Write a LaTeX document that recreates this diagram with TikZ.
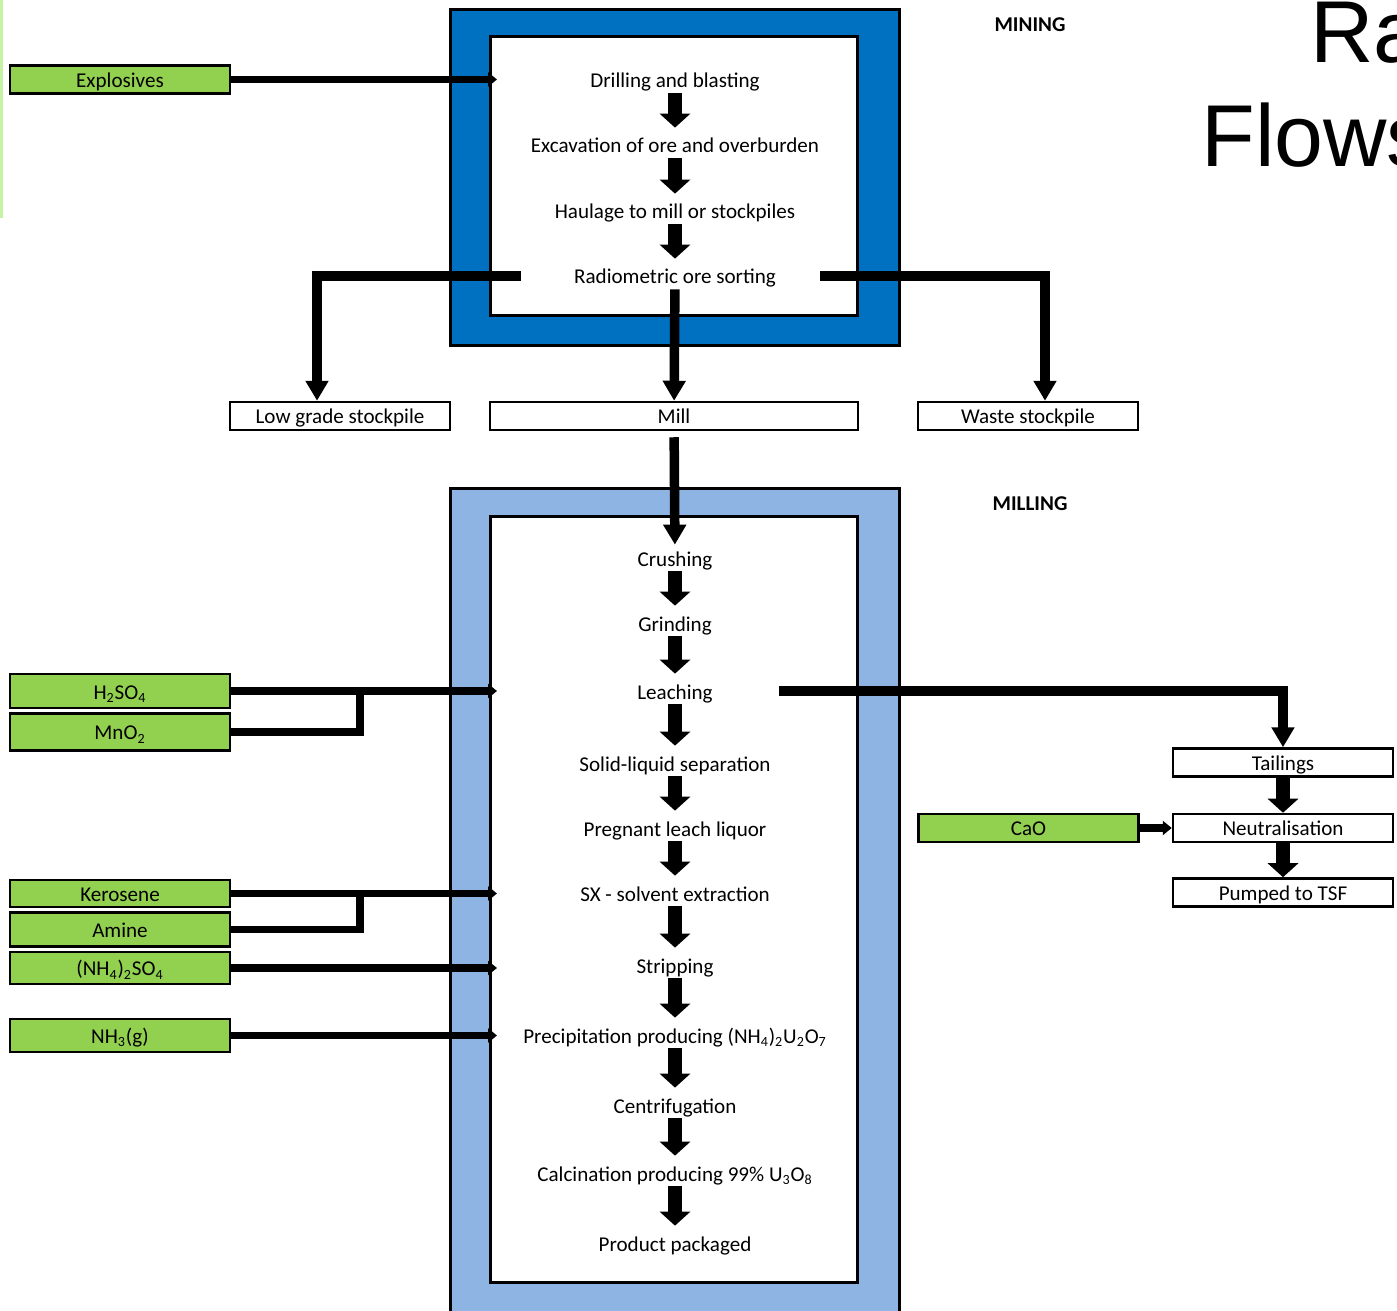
\documentclass[tikz,border=0pt]{standalone}
\usepackage{fontspec}
\setmainfont{Carlito}
\newfontfamily\titlefont{Liberation Sans}
\usepackage{xcolor}
\usepackage{tikz}
\usetikzlibrary{arrows.meta, positioning, calc}

\definecolor{mineblue}{HTML}{0070C0}
\definecolor{millblue}{HTML}{8EB4E3}
\definecolor{chemgreen}{HTML}{92D050}
\definecolor{edgegreen}{HTML}{C6F2A4}

\begin{document}
\begin{tikzpicture}[
  x=0.02cm, y=-0.02cm,
  every node/.style = {font=\fontsize{12}{14}\selectfont},
  stepnode/.style = {
    inner sep=0pt, minimum height=0.52cm,
    text height=0.36cm, text depth=0.04cm
  },
  stockbox/.style = {
    rectangle, draw=black, line width=0.05cm, fill=white,
    minimum width=4.4cm, minimum height=0.56cm, inner sep=0pt,
    text height=0.36cm, text depth=0.04cm
  },
  chembox/.style = {stockbox, fill=chemgreen},
  zonebox/.style = {
    rectangle, draw=black, line width=0.06cm,
    inner sep=0pt, outer sep=0pt, anchor=north west
  },
  blk/.style = {-{Triangle[width=0.6cm, length=0.28cm]}, line width=0.27cm, shorten >=0.08cm},
  blkbox/.style = {blk, shorten >=0pt},
  arr/.style = {-{Triangle[width=0.44cm, length=0.4cm]}, line width=0.19cm},
  feed/.style = {-{Triangle[width=0.28cm, length=0.18cm]}, line width=0.15cm},
  pipe/.style = {line width=0.15cm}
]

\path[use as bounding box] (0,0) rectangle (1397,1311);
\clip (0,0) rectangle (1397,1311);

% Slide edge and title
\fill[edgegreen] (0,0) rectangle (3,218);
\node[anchor=base west, inner sep=0pt, font=\titlefont\fontsize{50}{50}\selectfont] (ttl1) at (1310,63) {Ra};
\node[anchor=base west, inner sep=0pt, font=\titlefont\fontsize{50}{50}\selectfont] (ttl2) at (1201,167) {Flows};

% Zones
\node[zonebox, fill=mineblue, minimum width=9cm, minimum height=6.72cm] (mineout) at (450,10) {};
\node[zonebox, fill=white, minimum width=7.36cm, minimum height=5.58cm] (minein) at (490,37) {};
\node[zonebox, fill=millblue, minimum width=9cm, minimum height=16.84cm] (millout) at (450,488) {};
\node[zonebox, fill=white, minimum width=7.36cm, minimum height=15.34cm] (millin) at (490,516) {};

\node[font=\bfseries\fontsize{12}{14}\selectfont] (mining) at (1030,25) {MINING};
\node[font=\bfseries\fontsize{12}{14}\selectfont] (milling) at (1030,504) {MILLING};

% Mining steps
\node[stepnode] (drill) at (675,80) {Drilling and blasting};
\node[stepnode] (excav) at (675,145) {Excavation of ore and overburden};
\node[stepnode] (haul) at (675,211) {Haulage to mill or stockpiles};
\node[stepnode] (sort) at (675,276) {Radiometric ore sorting};

% Stockpiles
\node[stockbox] (lowgrade) at (340,416) {Low grade stockpile};
\node[stockbox, minimum width=7.36cm] (mill) at (674,416) {Mill};
\node[stockbox] (waste) at (1028,416) {Waste stockpile};

% Milling steps
\node[stepnode] (crush) at (675,558) {Crushing};
\node[stepnode] (grind) at (675,623) {Grinding};
\node[stepnode] (leach) at (675,691) {Leaching};
\node[stepnode] (sls) at (675,763) {Solid-liquid separation};
\node[stepnode] (pls) at (675,828) {Pregnant leach liquor};
\node[stepnode] (sx) at (675,893) {SX - solvent extraction};
\node[stepnode] (strip) at (675,965) {Stripping};
\node[stepnode] (precip) at (675,1035) {Precipitation producing (NH\textsubscript{4})\textsubscript{2}U\textsubscript{2}O\textsubscript{7}};
\node[stepnode] (centri) at (675,1105) {Centrifugation};
\node[stepnode] (calc) at (675,1173) {Calcination producing 99\% U\textsubscript{3}O\textsubscript{8}};
\node[stepnode] (product) at (675,1243) {Product packaged};

% Tailings
\node[stockbox] (tail) at (1283,762.5) {Tailings};
\node[stockbox, below=0.7cm of tail] (neutr) {Neutralisation};
\node[stockbox, below=0.68cm of neutr] (tsf) {Pumped to TSF};

% Reagents
\node[chembox] (expl) at (120,79.5) {Explosives};
\node[chembox, minimum height=0.68cm] (acid) at (120,691) {H\textsubscript{2}SO\textsubscript{4}};
\node[chembox, minimum height=0.74cm, below=0.06cm of acid] (oxid) {MnO\textsubscript{2}};
\node[chembox, minimum height=0.54cm] (kero) at (120,893.5) {Kerosene};
\node[chembox, minimum height=0.68cm, below=0.06cm of kero] (amine) {Amine};
\node[chembox, minimum height=0.64cm, below=0.06cm of amine] (ammsul) {(NH\textsubscript{4})\textsubscript{2}SO\textsubscript{4}};
\node[chembox, minimum height=0.66cm] (ammonia) at (120,1035.5) {NH\textsubscript{3}(g)};
\node[chembox, left=0.64cm of neutr] (lime) {CaO};

% Mining flow
\draw[blk] (drill) -- (excav);
\draw[blk] (excav) -- (haul);
\draw[blk] (haul) -- (sort);
\draw[arr] ([xshift=-1.06cm]sort.west) -| ([xshift=-0.46cm]lowgrade.north);
\draw[arr] ([xshift=0.88cm]sort.east) -| ([xshift=0.34cm]waste.north);
\draw[arr] (sort) -- (mill);
\draw[arr, shorten <=0.12cm] (mill) -- (crush);

% Milling flow
\draw[blk] (crush) -- (grind);
\draw[blk] (grind) -- (leach);
\draw[blk] (leach) -- (sls);
\draw[blk] (sls) -- (pls);
\draw[blk] (pls) -- (sx);
\draw[blk] (sx) -- (strip);
\draw[blk] (strip) -- (precip);
\draw[blk] (precip) -- (centri);
\draw[blk] (centri) -- (calc);
\draw[blk] (calc) -- (product);

% Tailings flow
\draw[arr] ([xshift=1.32cm]leach.east) -| (tail.north);
\draw[blkbox] (tail) -- (neutr);
\draw[blkbox] (neutr) -- (tsf);
\draw[feed] (lime) -- (neutr);

% Reagent feeds
\draw[feed] (expl.east) -- ($(expl.east -| minein.west)+(7,0)$);
\draw[feed] (acid.east) -- ($(acid.east -| millin.west)+(7,0)$);
\draw[pipe] (oxid.east) -| ($(acid.east)+(129,0)$);
\draw[feed] (kero.east) -- ($(kero.east -| millin.west)+(7,0)$);
\draw[pipe] (amine.east) -| ($(kero.east)+(129,0)$);
\draw[feed] (ammsul.east) -- ($(ammsul.east -| millin.west)+(7,0)$);
\draw[feed] (ammonia.east) -- ($(ammonia.east -| millin.west)+(7,0)$);

\end{tikzpicture}
\end{document}
